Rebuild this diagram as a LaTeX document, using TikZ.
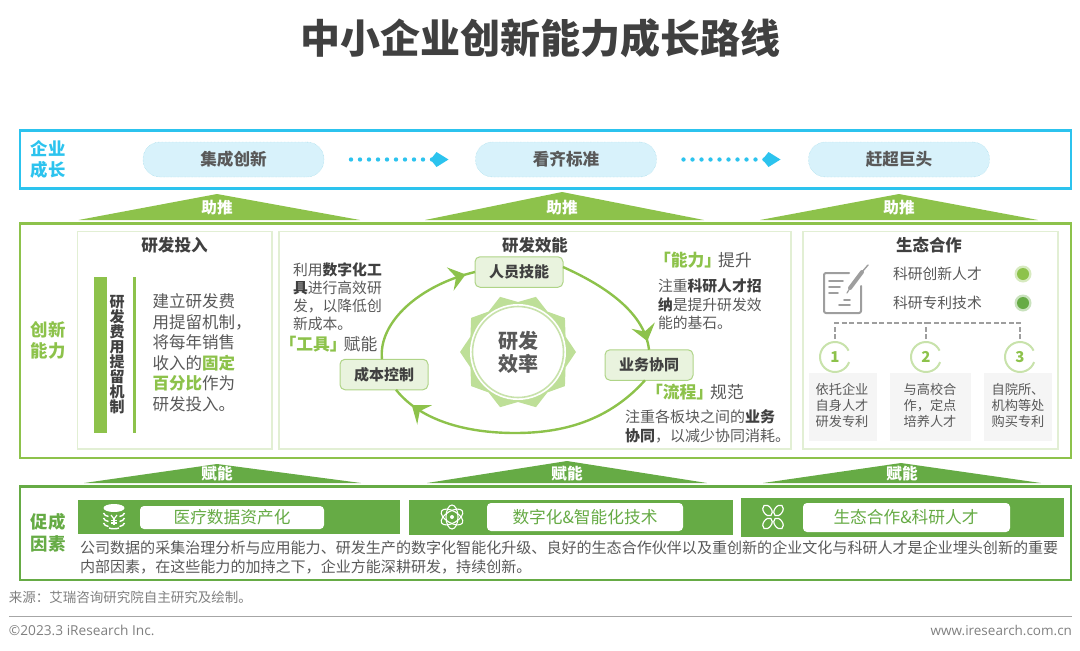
\documentclass[tikz,border=0pt]{standalone}
\usepackage{fontspec}
\setmainfont{Noto Sans CJK SC}
\newfontfamily\latinface{Open Sans}
\usetikzlibrary{arrows.meta,shapes.geometric,decorations.markings}
\definecolor{cyanline}{HTML}{2CC3EE}
\definecolor{cyanfill}{HTML}{D8F2FB}
\definecolor{cyandash}{HTML}{8FD3E3}
\definecolor{lgreen}{HTML}{8DC24B}
\definecolor{dgreen}{HTML}{66AB45}
\definecolor{panelline}{HTML}{E2EFD4}
\definecolor{boxfill}{HTML}{E9F3DE}
\definecolor{boxline}{HTML}{AFD487}
\definecolor{gearfill}{HTML}{BEDF98}
\definecolor{ringgreen}{HTML}{C8E2AB}
\definecolor{inkdark}{HTML}{404040}
\definecolor{inkmid}{HTML}{595959}
\definecolor{inksoft}{HTML}{7F7F7F}
\newcommand{\fz}[2]{\fontsize{#1}{#2}\selectfont}
\newcommand{\gb}[1]{\textcolor{lgreen}{\textbf{#1}}}
\newcommand{\db}[1]{\textcolor{inkdark}{\textbf{#1}}}
\tikzset{
  txt/.style={inner sep=0pt,outer sep=0pt,anchor=west,text=inkmid,align=left},
  ctr/.style={inner sep=0pt,outer sep=0pt,anchor=center,align=center},
  pillbox/.style={draw=cyandash,densely dotted,fill=cyanfill,rounded corners=17pt,minimum width=181pt,minimum height=35pt,inner sep=0pt,outer sep=0pt,text=inkmid,font=\bfseries\fz{16.6}{17}},
  stagebox/.style={draw=boxline,line width=1pt,fill=boxfill,rounded corners=5pt,minimum width=88pt,minimum height=30.5pt,inner sep=0pt,outer sep=0pt,text=inkdark,font=\bfseries\fz{15}{15}},
  flowarc/.style={lgreen,line width=2.4pt},
  dotarrow/.style={cyanline,line width=4.4pt,line cap=round,dash pattern=on 0pt off 9pt,-{Kite[length=18pt,width=15pt,inset=6pt,line width=0pt]}},
  dashconn/.style={draw=black!38,line width=1.4pt,dash pattern=on 5pt off 2.5pt},
  numnode/.style={circle,minimum size=30pt,inner sep=0pt,outer sep=0pt,text=lgreen,font=\bfseries\fz{15}{15}},
  ringarc/.style={ringgreen,line width=2pt},
  graybox/.style={fill=black!4,draw=none},
  wlabel/.style={ctr,text=white,font=\bfseries\fz{15.6}{16}},
  wpill/.style={fill=white,rounded corners=4pt},
  iconw/.style={draw=white,line width=1.4pt},
  icong/.style={draw=black!38,line width=2pt},
  bighead/.style={postaction={decorate},decoration={markings,mark=at position #1 with {\arrow{Stealth[length=16pt,width=24pt,inset=6pt]}}}}
}
\begin{document}
\begin{tikzpicture}[x=1pt,y=-1pt]
\useasboundingbox (0,0) rectangle (1080,651);
% title
\node[ctr,text=inkdark,font=\bfseries\fz{40}{40}] (title) at (540,38) {中小企业创新能力成长路线};
% frames
\draw[cyanline,line width=2.6pt] (20,130.5) rectangle (1071,188.5);
\draw[lgreen,line width=2.6pt] (20,223.5) rectangle (1071,458);
\draw[dgreen,line width=2.6pt] (20,486.5) rectangle (1071,580);
% side labels
\node[ctr,text=cyanline,font=\bfseries\fz{17.4}{21}] (lab1) at (48,159.5) {企业\\成长};
\node[ctr,text=lgreen,font=\bfseries\fz{17.4}{21}] (lab2) at (48,340) {创新\\能力};
\node[ctr,text=dgreen,font=\bfseries\fz{17.4}{22}] (lab3) at (48,533) {促成\\因素};
% stage pills
\node[pillbox] (p1) at (233.5,159.5) {集成创新};
\node[pillbox] (p2) at (566,159.5) {看齐标准};
\node[pillbox] (p3) at (899,159.5) {赶超巨头};
\draw[dotarrow] ([xshift=27pt]p1.east) -- ([xshift=-27pt]p2.west);
\draw[dotarrow] ([xshift=27pt]p2.east) -- ([xshift=-28pt]p3.west);
% triangles
\fill[lgreen] (78.5,220) -- (217,194) -- (360,220) -- cycle;
\fill[lgreen] (425,220) -- (562,192) -- (704,220) -- cycle;
\fill[lgreen] (760,220) -- (899,194) -- (1038,220) -- cycle;
\node[wlabel] (z1) at (217,208) {助推};
\node[wlabel] (z2) at (562,208) {助推};
\node[wlabel] (z3) at (899,208) {助推};
\fill[dgreen] (84,483) -- (217,464) -- (361,483) -- cycle;
\fill[dgreen] (427,483) -- (567,461) -- (707,483) -- cycle;
\fill[dgreen] (763,483) -- (901,463) -- (1041,483) -- cycle;
\node[wlabel] (f1) at (217,474) {赋能};
\node[wlabel] (f2) at (567,474) {赋能};
\node[wlabel] (f3) at (902,474) {赋能};
% panels
\draw[panelline,line width=1.4pt] (77.5,231.5) rectangle (272,449);
\draw[panelline,line width=1.4pt] (279,231.5) rectangle (791,449);
\draw[panelline,line width=1.4pt] (803,231.5) rectangle (1058,449);
\node[ctr,text=inkdark,font=\bfseries\fz{16.6}{17}] (h1) at (174.5,245) {研发投入};
\node[ctr,text=inkdark,font=\bfseries\fz{16.4}{17}] (h2) at (535,245) {研发效能};
\node[ctr,text=inkdark,font=\bfseries\fz{16.4}{17}] (h3) at (929,245) {生态合作};
% left panel
\fill[lgreen] (94,277) rectangle (107,433);
\fill[lgreen] (132.5,277) rectangle (136,433);
\node[ctr,text=inkdark,font=\bfseries\fz{15}{15}] (vt) at (117,355) {研\\发\\费\\用\\提\\留\\机\\制};
\node[txt,anchor=north west,font=\fz{16.5}{20.6}] (lbody) at (152.5,293.5) {建立研发费\\用提留机制，\\将每年销售\\收入的\gb{固定}\\\gb{百分比}作为\\研发投入。};
% gear
\node[star,star points=10,star point ratio=1.16,shape border rotate=18,fill=gearfill,minimum size=116pt,inner sep=0pt,outer sep=0pt] (gear) at (518,352) {};
\node[circle,fill=white,minimum size=96pt,inner sep=0pt,outer sep=0pt] (gearw) at (518,352) {};
\node[circle,draw=ringgreen,line width=1.6pt,fill=white,minimum size=91pt,inner sep=0pt,outer sep=0pt,align=center,text=inkmid,font=\bfseries\fz{20}{23}] (core) at (518,352) {研发\\效率};
% stage nodes
\node[stagebox] (s1) at (519,272) {人员技能};
\node[stagebox] (s2) at (649,365) {业务协同};
\node[stagebox] (s3) at (384,374.5) {成本控制};
\draw[flowarc,bighead=0.93]
  ([xshift=-2pt]s3.north) .. controls (378,322) and (420,285) .. (s1.west);
\draw[flowarc,bighead=0.93]
  ([yshift=5pt]s1.east) .. controls (610,288) and (645,315) .. (s2.north);
\draw[flowarc,bighead=0.92]
  ([xshift=-4pt]s2.south) .. controls (605,425) and (555,433) .. (515,433) .. controls (465,433) and (420,420) .. ([xshift=12pt]s3.south);
% middle panel text
\node[txt,anchor=north west,font=\fz{14.8}{18.2}] (mt1) at (293,262.5) {利用\db{数字化工}\\\db{具}进行高效研\\发，以降低创\\新成本。};
\node[txt,font=\fz{16.8}{17}] (mt2) at (279.5,344) {\gb{「工具」}\hspace{-3pt}赋能};
\node[txt,font=\fz{16.8}{17}] (mt3) at (654,260) {\gb{「能力」}\hspace{-3pt}提升};
\node[txt,anchor=north west,font=\fz{14.8}{18.4}] (mt4) at (658,279) {注重\db{科研人才招}\\\db{纳}是提升研发效\\能的基石。};
\node[txt,font=\fz{16.8}{17}] (mt5) at (646,392) {\gb{「流程」}\hspace{-3pt}规范};
\node[txt,anchor=north west,font=\fz{15}{18.4}] (mt6) at (625,410) {注重各板块之间的\db{业务}\\\db{协同}，以减少协同消耗。};
% right panel: icon
\begin{scope}[line cap=round,line join=round]
\draw[icong,rounded corners=2pt] (849,273) -- (824,273) -- (824,313) -- (861,313) -- (861,286);
\draw[icong,line width=1.6pt] (829,281) -- (843,281);
\draw[icong,line width=1.6pt] (829,287) -- (840,287);
\draw[icong,line width=1.6pt] (829,293) -- (838,293);
\draw[icong,line width=1.6pt] (844,300) -- (850,300);
\draw[icong,line width=1.6pt] (839,305) -- (850,305);
\draw[black!38,line width=4pt] (850,288) -- (862,272);
\draw[black!38,line width=1.2pt] (847,293) -- (850,288);
\draw[black!38,line width=1.4pt] (862,272) -- (868,265);
\end{scope}
\node[txt,font=\fz{14.8}{15}] (rt1) at (893,274) {科研创新人才};
\node[txt,font=\fz{14.8}{15}] (rt2) at (893,303) {科研专利技术};
\fill[lgreen!35] (1023,274) circle [radius=8.5pt];
\fill[lgreen] (1023,274) circle [radius=6pt];
\fill[dgreen!35] (1023,303) circle [radius=8.5pt];
\fill[dgreen] (1023,303) circle [radius=6pt];
% numbered circles
\node[numnode] (c1) at (835,357) {1};
\node[numnode] (c2) at (926,357) {2};
\node[numnode] (c3) at (1020,357) {3};
\foreach \n in {c1,c2,c3}{
  \draw[ringarc] ([shift={(25:15pt)}]\n.center) arc[start angle=25,end angle=340,radius=15pt];
}
\coordinate (dtop) at (926,323);
\draw[dashconn,shorten <=3pt] (c1.north) |- (dtop);
\draw[dashconn,shorten <=3pt] (c3.north) |- (dtop);
\draw[dashconn,shorten <=3pt] (c2.north) -- (dtop);
\fill[graybox] (809,373) rectangle (877,441);
\fill[graybox] (890,373) rectangle (971,441);
\fill[graybox] (984,373) rectangle (1052,441);
\node[ctr,text=inkmid,font=\fz{13.2}{16}] (g1) at (842,405) {依托企业\\自身人才\\研发专利};
\node[ctr,text=inkmid,font=\fz{13.2}{16}] (g2) at (930,405) {与高校合\\作，定点\\培养人才};
\node[ctr,text=inkmid,font=\fz{13.2}{16}] (g3) at (1018,405) {自院所、\\机构等处\\购买专利};
% bottom bars
\fill[dgreen] (77.5,500) rectangle (399.5,534);
\fill[dgreen] (409,500) rectangle (733,535);
\fill[dgreen] (741,498) rectangle (1064,537);
\fill[wpill] (140,506) rectangle (324,529);
\fill[wpill] (487,503) rectangle (683,531);
\fill[wpill] (803,503) rectangle (1010,532);
\node[ctr,text=dgreen,font=\fz{16.7}{17}] (b1) at (232,517) {医疗数据资产化};
\node[ctr,text=dgreen,font=\fz{16.7}{17}] (b2) at (585,517) {数字化\&智能化技术};
\node[ctr,text=dgreen,font=\fz{16.7}{17}] (b3) at (906,517) {生态合作\&科研人才};
% database icon
\begin{scope}[shift={(114,517)}]
\fill[white] (0,-9) ellipse [x radius=10.5pt,y radius=4pt];
\foreach \yy in {-4,1,6}{
  \draw[iconw] (-10.5,\yy) .. controls (-10,\yy+2) and (-8,\yy+3) .. (-5.5,\yy+3.5);
  \draw[iconw] (10.5,\yy) .. controls (10,\yy+2) and (8,\yy+3) .. (5.5,\yy+3.5);
}
\draw[iconw] (-5,11) .. controls (-2,12) and (2,12) .. (5,11);
\draw[iconw,line width=1.2pt] (-3,-2) -- (0,2) -- (3,-2);
\draw[iconw,line width=1.2pt] (0,2) -- (0,8);
\draw[iconw,line width=1.2pt] (-3,3.5) -- (3,3.5);
\draw[iconw,line width=1.2pt] (-3,6) -- (3,6);
\end{scope}
% atom icon
\begin{scope}[shift={(452,517)}]
\draw[iconw,line width=1.1pt] (0,0) ellipse [x radius=6pt,y radius=12pt];
\draw[iconw,line width=1.1pt,rotate=60] (0,0) ellipse [x radius=6pt,y radius=12pt];
\draw[iconw,line width=1.1pt,rotate=-60] (0,0) ellipse [x radius=6pt,y radius=12pt];
\fill[white] (0,0) circle [radius=2pt];
\end{scope}
% clover icon
\begin{scope}[shift={(773,517)}]
\draw[iconw,line width=1.2pt,rotate around={35:(-5.5,-6.5)}] (-5.5,-6.5) ellipse [x radius=4pt,y radius=6pt];
\draw[iconw,line width=1.2pt,rotate around={-35:(5.5,-6.5)}] (5.5,-6.5) ellipse [x radius=4pt,y radius=6pt];
\draw[iconw,line width=1.2pt,rotate around={-35:(-5.5,6.5)}] (-5.5,6.5) ellipse [x radius=4pt,y radius=6pt];
\draw[iconw,line width=1.2pt,rotate around={35:(5.5,6.5)}] (5.5,6.5) ellipse [x radius=4pt,y radius=6pt];
\end{scope}
% body
\node[txt,anchor=north west,font=\fz{15.05}{18.8}] (body) at (80,540.5) {公司数据的采集治理分析与应用能力、研发生产的数字化智能化升级、良好的生态合作伙伴以及重创新的企业文化与科研人才是企业埋头创新的重要\\内部因素，在这些能力的加持之下，企业方能深耕研发，持续创新。};
% footer
\node[txt,text=inksoft,font=\fz{13.5}{14}] (src) at (9,597) {来源：艾瑞咨询研究院自主研究及绘制。};
\draw[black!35,line width=1pt] (9,616) -- (1072,616);
\node[txt,text=inksoft,font=\latinface\fz{13.7}{14}] (cp) at (9,630) {©2023.3 iResearch Inc.};
\node[txt,anchor=east,text=inksoft,font=\latinface\fz{13.5}{14}] (web) at (1072,630) {www.iresearch.com.cn};
\end{tikzpicture}
\end{document}
